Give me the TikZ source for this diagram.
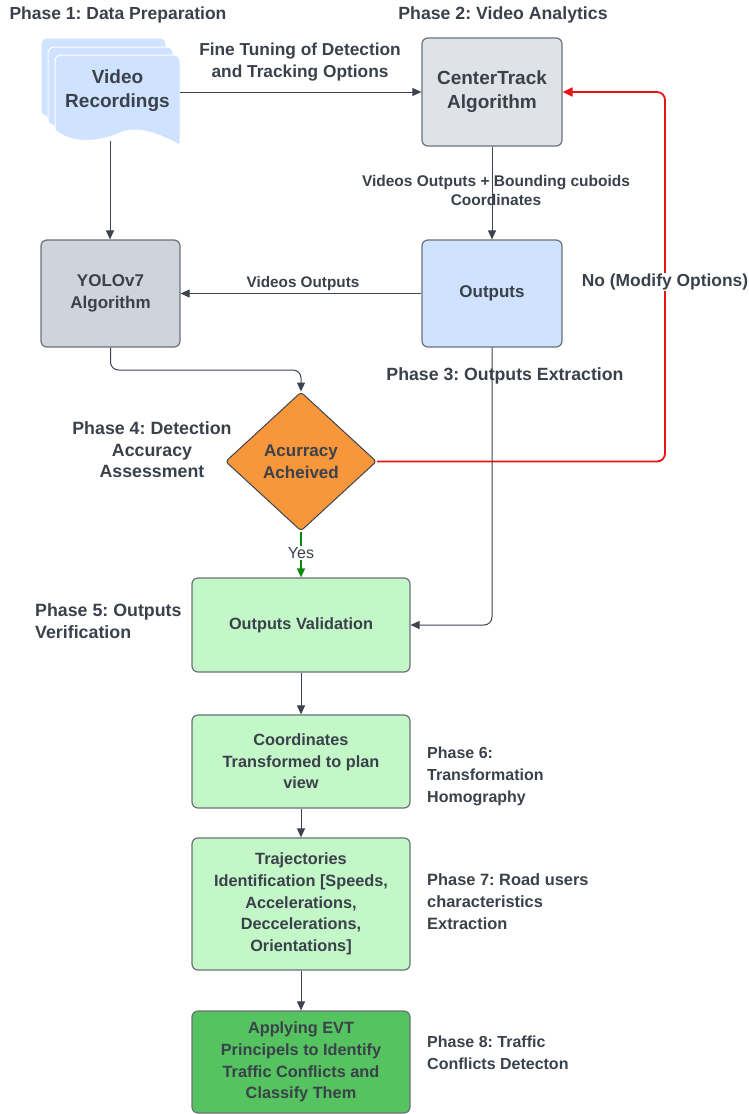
\documentclass[tikz,border=0pt]{standalone}
\usepackage{fontspec}
\setmainfont{Liberation Sans}
\usetikzlibrary{arrows.meta,shapes.geometric}
\frenchspacing
\definecolor{txt}{HTML}{3A414A}
\definecolor{boxline}{HTML}{6B7079}
\definecolor{arrline}{HTML}{3D4450}
\definecolor{lblue}{HTML}{CFE2FF}
\definecolor{ctgray}{HTML}{DFE2E7}
\definecolor{ygray}{HTML}{CED4DC}
\definecolor{orng}{HTML}{F7963A}
\definecolor{lgreen}{HTML}{C3F7C8}
\definecolor{dgreen}{HTML}{55C35F}
\definecolor{redline}{HTML}{E81313}
\definecolor{grnline}{HTML}{0C8A0C}
\newcommand\fs[2]{\fontsize{#1}{#2}\selectfont\bfseries}
\begin{document}
\begin{tikzpicture}[x=1pt,y=-1pt,
  box/.style={draw=boxline, line width=1.2pt, rounded corners=6pt, align=center, text=txt, inner sep=2pt},
  lbl/.style={text=txt, inner sep=0pt},
  arr/.style={draw=arrline, line width=1pt, -{Triangle[length=9pt,width=8pt]}},
  redarr/.style={draw=redline, line width=1.8pt, -{Triangle[length=10pt,width=9pt]}, rounded corners=8pt},
  grnarr/.style={draw=grnline, line width=1.6pt, -{Triangle[length=9pt,width=8pt]}},
  sheet/.style={fill=lblue, draw=white, line width=1pt}
]
\useasboundingbox (0,0) rectangle (748,1114);

% Video recordings (multiple documents)
\foreach \dx/\dy in {-14/-17,-7/-8,0/0}{
  \begin{scope}[shift={(\dx,\dy)}]
  \path[sheet] (55,130) -- (55,61) [rounded corners=6pt]-- (55,55) -- (180,55) [sharp corners]-- (180,145)
     .. controls (160,135) and (140,125) .. (120,133)
     .. controls (100,142) and (72,145) .. (55,130) -- cycle;
  \end{scope}
}
\node[lbl, align=center, font=\fs{19}{24}] (vid) at (117.5,91) {Video\\Recordings};
\coordinate (vidr) at (180,92);
\coordinate (vidb) at (110,141);

% boxes
\node[box, fill=ctgray, minimum width=140pt, minimum height=108pt, font=\fs{19}{24}] (ct) at (492,92) {CenterTrack\\Algorithm};
\node[box, fill=lblue, minimum width=140pt, minimum height=107pt, font=\fs{17}{22}] (out) at (492,293.5) {Outputs};
\node[box, fill=ygray, minimum width=139pt, minimum height=107pt, font=\fs{17}{22}] (yolo) at (110.5,293.5) {YOLOv7\\Algorithm};
\node[diamond, draw=arrline, line width=1pt, rounded corners=3pt, fill=orng, minimum width=151pt, minimum height=139pt, inner sep=0pt, align=center, text=txt, font=\fs{17}{21.5}] (dia) at (301,461.5) {Acurracy\\Acheived};
\node[box, fill=lgreen, minimum width=218pt, minimum height=94pt, font=\fs{16.3}{21.5}] (val) at (301,625) {Outputs Validation};
\node[box, fill=lgreen, minimum width=218pt, minimum height=93pt, font=\fs{16.3}{21.5}] (coord) at (301,761.5) {Coordinates\\Transformed to plan\\view};
\node[box, fill=lgreen, minimum width=218pt, minimum height=132pt, font=\fs{16.3}{21.7}] (traj) at (301,904) {Trajectories\\Identification [Speeds,\\Accelerations,\\Deccelerations,\\Orientations]};
\node[box, fill=dgreen, minimum width=218pt, minimum height=102pt, font=\fs{16.3}{21.7}] (evt) at (301,1062) {Applying EVT\\Principels to Identify\\Traffic Conflicts and\\Classify Them};

% connectors
\draw[arr] (vidr) -- (ct.west);
\node[lbl, align=center, font=\fs{17.3}{22}] (l1) at (300,62) {Fine Tuning of Detection\\and Tracking Options};
\draw[arr] (vidb) -- (vidb |- yolo.north);
\draw[arr] (ct.south) -- (out.north);
\node[lbl, align=center, font=\fs{15.5}{19}] (l2) at (496,190.5) {Videos Outputs + Bounding cuboids\\Coordinates};
\draw[arr] (out.west) -- (yolo.east);
\node[lbl, font=\fs{15.3}{19}] (l3) at (303,284) {Videos Outputs};
\coordinate (bend1) at (301,370);
\draw[arr, rounded corners=8pt] (yolo.south) |- (bend1) -- (dia.north);
\coordinate (redc) at (665,92);
\draw[redarr] (dia.east) -| (redc) -- (ct.east);
\node[lbl, fill=white, inner sep=1pt, font=\fs{17.4}{22}] (l4) at (665,282) {No (Modify Options)};
\draw[arr, rounded corners=8pt] (out.south) |- (val.east);
\draw[grnarr] (dia.south) -- (val.north);
\node[lbl, fill=white, inner sep=1pt, font=\fontsize{16}{19}\selectfont] (yes) at (301,553) {Yes};
\draw[arr] (val.south) -- (coord.north);
\draw[arr] (coord.south) -- (traj.north);
\draw[arr] (traj.south) -- (evt.north);

% phase labels
\node[lbl, font=\fs{17.5}{22}] (p1) at (118,15) {Phase 1: Data Preparation};
\node[lbl, font=\fs{17.7}{22}] (p2) at (503,15) {Phase 2: Video Analytics};
\node[lbl, font=\fs{17.7}{22}] (p3) at (505,376) {Phase 3: Outputs Extraction};
\node[lbl, align=center, font=\fs{17.8}{21.5}] (p4) at (152,450) {Phase 4: Detection\\Accuracy\\Assessment};
\node[lbl, anchor=west, align=left, font=\fs{17.8}{22}] (p5) at (35,621) {Phase 5: Outputs\\Verification};
\node[lbl, anchor=west, align=left, font=\fs{16}{22}] (p6) at (427,776) {Phase 6:\\Transformation\\Homography};
\node[lbl, anchor=west, align=left, font=\fs{16.4}{22}] (p7) at (427,902) {Phase 7: Road users\\characteristics\\Extraction};
\node[lbl, anchor=west, align=left, font=\fs{16}{22}] (p8) at (427,1053) {Phase 8: Traffic\\Conflicts Detecton};
\end{tikzpicture}
\end{document}
